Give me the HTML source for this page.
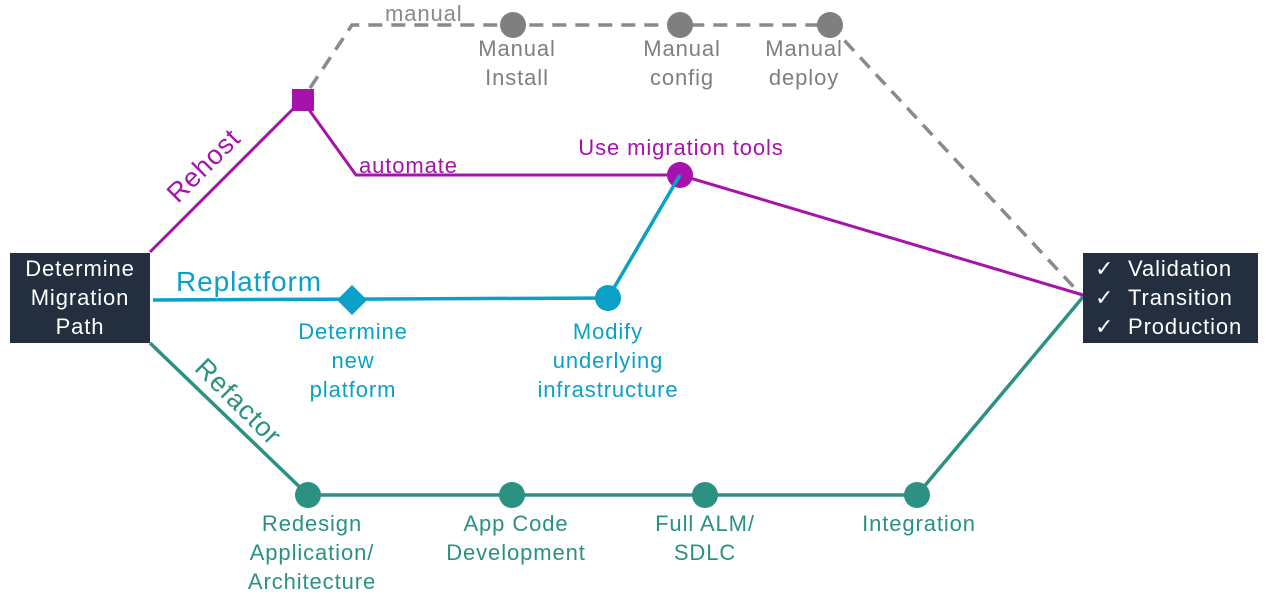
<!DOCTYPE html>
<html><head><meta charset="utf-8"><style>
body{margin:0;background:#fff;}
svg text{font-family:"Liberation Sans",sans-serif;font-size:22px;letter-spacing:0.9px;}
</style></head><body>
<svg width="1271" height="603" viewBox="0 0 1271 603" xmlns="http://www.w3.org/2000/svg">
<polyline points="310,88 352,25 830,25 1083,297" fill="none" stroke="#8a8a8a" stroke-width="3.5" stroke-dasharray="14,9"/>
<circle cx="513" cy="25" r="13" fill="#7f7f7f"/>
<circle cx="680" cy="25" r="13" fill="#7f7f7f"/>
<circle cx="830" cy="25" r="13" fill="#7f7f7f"/>
<text x="385" y="21" fill="#8a8a8a">manual</text>
<g fill="#7f7f7f" text-anchor="middle">
<text x="517" y="56">Manual</text><text x="517" y="85">Install</text>
<text x="682" y="56">Manual</text><text x="682" y="85">config</text>
<text x="804" y="56">Manual</text><text x="804" y="85">deploy</text>
</g>
<polyline points="150,252 302,100 356,175 680,175 1083,295" fill="none" stroke="#a612ac" stroke-width="3"/>
<rect x="292" y="89" width="22" height="22" fill="#a612ac"/>
<circle cx="680" cy="175" r="13" fill="#a612ac"/>
<text x="359" y="173" fill="#a612ac">automate</text>
<text x="681" y="155" fill="#a612ac" text-anchor="middle">Use migration tools</text>
<text x="210" y="172" fill="#a612ac" text-anchor="middle" transform="rotate(-45 210 172)" style="font-size:27px">Rehost</text>
<polyline points="153,300 608,298 680,175" fill="none" stroke="#0aa0c8" stroke-width="3.5"/>
<polygon points="352,285 367,300 352,315 337,300" fill="#0aa0c8"/>
<circle cx="608" cy="298" r="13" fill="#0aa0c8"/>
<text x="176" y="291" fill="#0aa0c8" style="font-size:28px">Replatform</text>
<g fill="#0aa0c8" text-anchor="middle">
<text x="353" y="339">Determine</text><text x="353" y="368">new</text><text x="353" y="397">platform</text>
<text x="608" y="339">Modify</text><text x="608" y="368">underlying</text><text x="608" y="397">infrastructure</text>
</g>
<polyline points="150,343 308,495 917,495 1083,297" fill="none" stroke="#2a9183" stroke-width="3.5"/>
<circle cx="308" cy="495" r="13" fill="#2a9183"/>
<circle cx="512" cy="495" r="13" fill="#2a9183"/>
<circle cx="705" cy="495" r="13" fill="#2a9183"/>
<circle cx="917" cy="495" r="13" fill="#2a9183"/>
<text x="232" y="408" fill="#2a9183" text-anchor="middle" transform="rotate(45 232 408)" style="font-size:27px">Refactor</text>
<g fill="#2a9183" text-anchor="middle">
<text x="312" y="531">Redesign</text><text x="312" y="560">Application/</text><text x="312" y="589">Architecture</text>
<text x="516" y="531">App Code</text><text x="516" y="560">Development</text>
<text x="705" y="531">Full ALM/</text><text x="705" y="560">SDLC</text>
<text x="919" y="531">Integration</text>
</g>
<rect x="10" y="253" width="140" height="90" fill="#232f3e"/>
<g fill="#fff" text-anchor="middle">
<text x="80" y="276">Determine</text><text x="80" y="305">Migration</text><text x="80" y="334">Path</text>
</g>
<rect x="1083" y="253" width="175" height="90" fill="#232f3e"/>
<g fill="#fff">
<text x="1095" y="276">✓</text><text x="1128" y="276">Validation</text>
<text x="1095" y="305">✓</text><text x="1128" y="305">Transition</text>
<text x="1095" y="334">✓</text><text x="1128" y="334">Production</text>
</g>
</svg>
</body></html>
